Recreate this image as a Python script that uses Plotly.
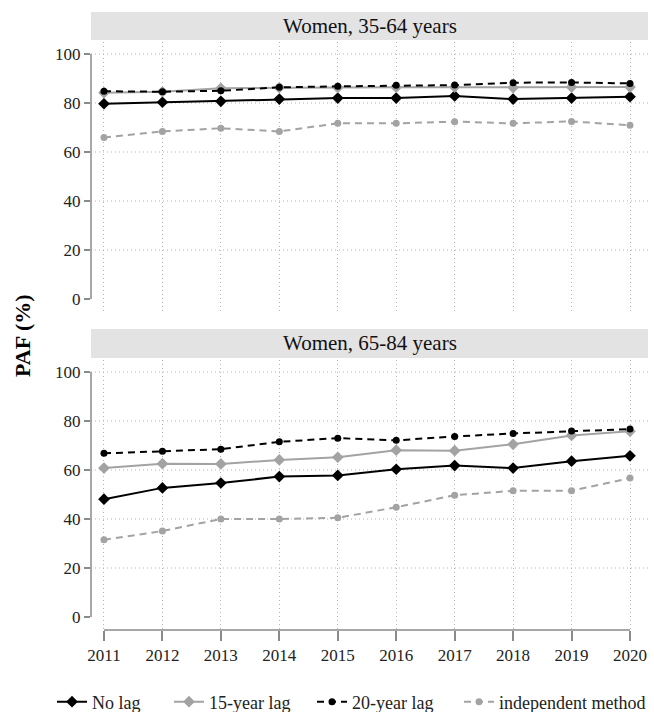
import plotly.graph_objects as go

years = [2011, 2012, 2013, 2014, 2015, 2016, 2017, 2018, 2019, 2020]
series_names = ["No lag", "15-year lag", "20-year lag", "independent method"]

# Women, 35-64 years
top_no_lag = [79.7, 80.3, 80.7, 81.6, 82.0, 82.0, 82.9, 81.6, 82.0, 82.6]
top_lag15 = [84.2, 84.6, 86.0, 86.3, 86.3, 86.4, 86.5, 86.3, 86.5, 86.5]
top_lag20 = [84.8, 84.6, 85.0, 86.4, 86.8, 87.2, 87.3, 88.3, 88.4, 88.0]
top_indep = [65.9, 68.4, 69.7, 68.4, 71.7, 71.7, 72.4, 71.7, 72.5, 70.9]

# Women, 65-84 years
bot_no_lag = [48.1, 52.7, 54.7, 57.3, 57.8, 60.3, 61.8, 60.8, 63.6, 65.8]
bot_lag15 = [60.8, 62.6, 62.5, 64.1, 65.2, 68.1, 67.9, 70.5, 74.1, 75.8]
bot_lag20 = [66.8, 67.7, 68.5, 71.5, 73.0, 72.1, 73.7, 74.9, 75.9, 76.7]
bot_indep = [31.5, 35.1, 40.0, 40.0, 40.5, 44.8, 49.7, 51.5, 51.5, 56.7]

panel_titles = ["Women, 35-64 years", "Women, 65-84 years"]
y_ticks = [0, 20, 40, 60, 80, 100]
y_title = "PAF (%)"

FONT = "Liberation Serif"
BLACK = "#000000"
GRAY = "#a3a3a3"
AXIS = "#8a8a8a"
GRID = "#b5b5b5"
GRID_DASH = "1px,3px"

styles = [
    dict(color=BLACK, dash="solid", symbol="diamond", size=9),
    dict(color=GRAY, dash="solid", symbol="diamond", size=9),
    dict(color=BLACK, dash="7px,5px", symbol="circle", size=7),
    dict(color=GRAY, dash="7px,5px", symbol="circle", size=7),
]
legend_ids = ["legend", "legend2", "legend3", "legend4"]
legend_x = [-0.0700, 0.1400, 0.3968, 0.6607]

fig = go.Figure()
panels = [
    ("x", "y", [top_no_lag, top_lag15, top_lag20, top_indep], True),
    ("x2", "y2", [bot_no_lag, bot_lag15, bot_lag20, bot_indep], False),
]
for xa, ya, data, show in panels:
    for name, vals, st, lid in zip(series_names, data, styles, legend_ids):
        fig.add_trace(go.Scatter(
            x=years, y=vals, name=name, mode="lines+markers",
            xaxis=xa, yaxis=ya, showlegend=show, legendgroup=name, legend=lid,
            line=dict(color=st["color"], width=2, dash=st["dash"]),
            marker=dict(color=st["color"], symbol=st["symbol"], size=st["size"]),
        ))

xr = [2010.778, 2020.308]
yr = [-5.3, 104.9]
common_x = dict(range=xr, tickmode="array", tickvals=years, showgrid=True,
                gridcolor=GRID, griddash=GRID_DASH, gridwidth=1,
                zeroline=False, showline=False)
common_y = dict(range=yr, tickmode="array", tickvals=y_ticks, showgrid=False,
                zeroline=False, showline=False, ticks="outside", ticklen=6,
                tickcolor=AXIS, tickwidth=1.5,
                tickfont=dict(family=FONT, size=17, color="#222"))

top_dom = [0.5408, 1.0]
bot_dom = [0.0, 0.4592]

legend_common = dict(orientation="h", xanchor="left", y=-0.1224, yanchor="middle",
                     font=dict(family=FONT, size=18, color="#222"), itemwidth=30,
                     bgcolor="rgba(0,0,0,0)", borderwidth=0)

fig.update_layout(
    width=654, height=712,
    margin=dict(l=91, r=6, t=42, b=82, autoexpand=False),
    plot_bgcolor="white", paper_bgcolor="white",
    font=dict(family=FONT, size=17, color="#222"),
    xaxis=dict(domain=[0, 1], anchor="y", showticklabels=False, ticks="", **common_x),
    yaxis=dict(domain=top_dom, anchor="x", **common_y),
    xaxis2=dict(domain=[0, 1], anchor="y2", showticklabels=True, ticks="outside",
                ticklen=10, tickcolor=AXIS, tickwidth=1.5,
                tickfont=dict(family=FONT, size=17, color="#222"), **common_x),
    yaxis2=dict(domain=bot_dom, anchor="x2", **common_y),
    legend=dict(x=legend_x[0], **legend_common),
    legend2=dict(x=legend_x[1], **legend_common),
    legend3=dict(x=legend_x[2], **legend_common),
    legend4=dict(x=legend_x[3], **legend_common),
)

shapes = []
strip_y = [(1.0034, 1.051), (0.4626, 0.5119)]
for (y0, y1) in strip_y:
    shapes.append(dict(type="rect", xref="paper", yref="paper", x0=0, x1=1, y0=y0, y1=y1,
                       fillcolor="#e3e3e3", line=dict(width=0), layer="below"))
for xa, ya in [("x", "y"), ("x2", "y2")]:
    for v in y_ticks[1:]:
        shapes.append(dict(type="line", xref=f"{xa} domain", yref=ya, x0=0, x1=1, y0=v, y1=v,
                           line=dict(color=GRID, width=1, dash=GRID_DASH), layer="below"))
    shapes.append(dict(type="line", xref=f"{xa} domain", yref=ya, x0=0, x1=0,
                       y0=y_ticks[0], y1=y_ticks[-1], line=dict(color=AXIS, width=1.5)))
shapes.append(dict(type="line", xref="x2", yref="y2 domain", x0=years[0], x1=years[-1],
                   y0=0, y1=0, line=dict(color=AXIS, width=1.5)))
fig.update_layout(shapes=shapes)

annotations = []
for title, (y0, y1) in zip(panel_titles, strip_y):
    annotations.append(dict(text=title, xref="paper", yref="paper", x=0.5, y=(y0 + y1) / 2,
                            xanchor="center", yanchor="middle", showarrow=False,
                            font=dict(family=FONT, size=21, color="#111")))
annotations.append(dict(text=f"<b>{y_title}</b>", xref="paper", yref="paper", x=-0.124, y=0.5,
                        xanchor="center", yanchor="middle", textangle=-90, showarrow=False,
                        font=dict(family=FONT, size=22, color="#000")))
fig.update_layout(annotations=annotations)

fig.write_html("out.html", config={"displayModeBar": False},
               post_script="document.body.style.margin='0px';")
